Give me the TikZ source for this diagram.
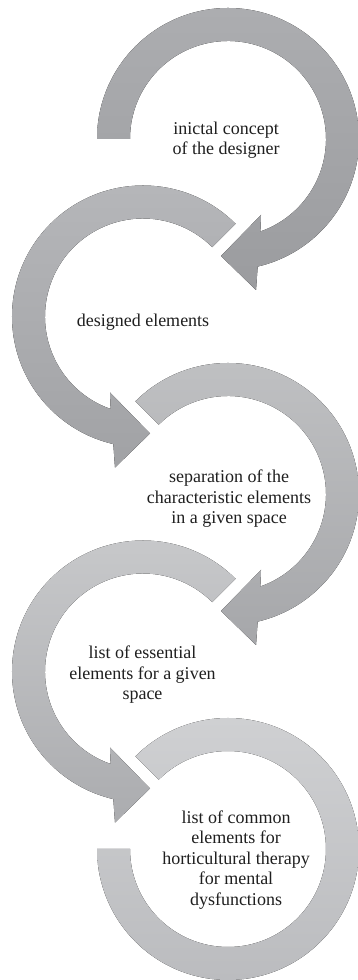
\documentclass[tikz,border=0pt]{standalone}
\usepackage{fontspec}
\setmainfont{Liberation Serif}
\begin{document}
\begin{tikzpicture}[x=1pt,y=1pt,
  lbl/.style={align=center,inner sep=0pt,text=black!88,font=\fontsize{18}{20.5}\selectfont}]
\useasboundingbox (0,0) rectangle (358,980);
\fill[white] (0,0) rectangle (358,980);
% arrow 1 (clockwise)
\begin{scope}[shift={(228,841)}]
\fill[top color={rgb,255:red,172;green,173;blue,176},bottom color={rgb,255:red,155;green,156;blue,159}]
  (180:131pt) arc[start angle=180,end angle=-76.9,radius=131pt] -- (28,-151) -- (-7,-117) -- (33,-76)
  -- (-70.7:98pt) arc[start angle=-70.7,end angle=180,radius=98pt] -- cycle;
\end{scope}
% arrow 2 (counter-clockwise)
\begin{scope}[shift={(143,663.5)}]
\fill[top color={rgb,255:red,182;green,183;blue,186},bottom color={rgb,255:red,161;green,162;blue,165}]
  (45:131pt) arc[start angle=45,end angle=256.9,radius=131pt] -- (-28,-151) -- (7,-117) -- (-33,-76)
  -- (250.7:98pt) arc[start angle=250.7,end angle=45,radius=98pt] -- cycle;
\end{scope}
% arrow 3 (clockwise)
\begin{scope}[shift={(228,486)}]
\fill[top color={rgb,255:red,192;green,193;blue,195},bottom color={rgb,255:red,166;green,167;blue,170}]
  (135:131pt) arc[start angle=135,end angle=-76.9,radius=131pt] -- (28,-151) -- (-7,-117) -- (33,-76)
  -- (-70.7:98pt) arc[start angle=-70.7,end angle=135,radius=98pt] -- cycle;
\end{scope}
% arrow 4 (counter-clockwise)
\begin{scope}[shift={(143,308.5)}]
\fill[top color={rgb,255:red,200;green,201;blue,203},bottom color={rgb,255:red,171;green,172;blue,175}]
  (45:131pt) arc[start angle=45,end angle=256.9,radius=131pt] -- (-28,-151) -- (7,-117) -- (-33,-76)
  -- (250.7:98pt) arc[start angle=250.7,end angle=45,radius=98pt] -- cycle;
\end{scope}
% arc 5
\begin{scope}[shift={(228,131)}]
\fill[top color={rgb,255:red,208;green,209;blue,211},bottom color={rgb,255:red,186;green,187;blue,190}]
  (135:131pt) arc[start angle=135,end angle=-180,radius=131pt]
  -- (-180:98pt) arc[start angle=-180,end angle=135,radius=98pt] -- cycle;
\end{scope}
\node[lbl] (t1) at (226,840) {inictal concept\\of the designer};
\node[lbl] (t2) at (143,658) {designed elements};
\node[lbl] (t3) at (229,481) {separation of the\\characteristic elements\\in a given space};
\node[lbl] (t4) at (142.5,305) {list of essential\\elements for a given\\space};
\node[lbl] (t5) at (236,120) {list of common\\elements for\\horticultural therapy\\for mental\\dysfunctions};
\end{tikzpicture}
\end{document}
